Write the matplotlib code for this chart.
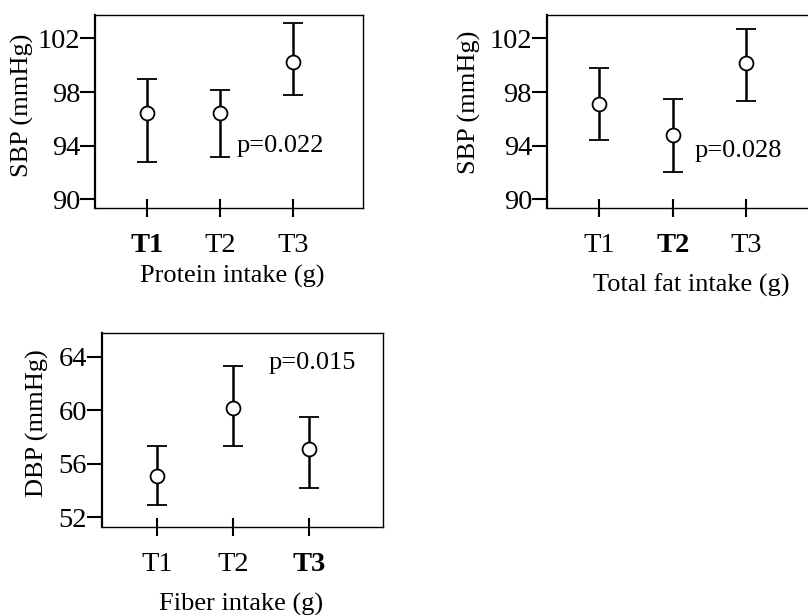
import matplotlib
matplotlib.use("Agg")
import matplotlib.pyplot as plt

plt.rcParams['font.family'] = ['Liberation Serif', 'DejaVu Serif']
plt.rcParams['font.size'] = 19

groups = ['T1', 'T2', 'T3']

# protein intake vs SBP
protein_mean = [96.45, 96.45, 100.25]
protein_low = [92.78, 93.15, 97.77]
protein_high = [98.95, 98.15, 103.15]

# total fat intake vs SBP
fat_mean = [97.13, 94.82, 100.15]
fat_low = [94.45, 92.05, 97.3]
fat_high = [99.83, 97.45, 102.7]

# fiber intake vs DBP
fiber_mean = [55.11, 60.15, 57.1]
fiber_low = [52.92, 57.33, 54.17]
fiber_high = [57.33, 63.31, 59.52]

sbp_ticks = [90, 94, 98, 102]
dbp_ticks = [52, 56, 60, 64]


def draw_panel(ax, mean, low, high, yticks, ylim, xlim, bold_idx,
               ylabel, xlabel, ptext, pxy, ylab_x, ylab_y, xlab_x, xlab_y):
    x = [1, 2, 3]
    err = [[m - l for m, l in zip(mean, low)], [h - m for m, h in zip(mean, high)]]
    ax.errorbar(x, mean, yerr=err, fmt='o', color='black', mfc='white',
                ms=10, mew=1.3, elinewidth=1.8, capsize=7, capthick=1.8)
    ax.set_xlim(*xlim)
    ax.set_ylim(*ylim)
    ax.set_yticks(yticks)
    ax.set_xticks(x)
    ax.set_xticklabels(groups)
    for i, lab in enumerate(ax.get_xticklabels()):
        if i == bold_idx:
            lab.set_fontweight('bold')
    ax.tick_params(axis='y', direction='out', length=10.5, width=1.5, pad=0,
                   labelsize=20.5)
    ax.tick_params(axis='x', direction='inout', length=13, width=1.5, pad=11,
                   labelsize=20.5)
    for s in ax.spines.values():
        s.set_linewidth(1.0)
    ax.spines['left'].set_linewidth(1.6)
    ax.set_ylabel(ylabel, va='center')
    ax.yaxis.set_label_coords(ylab_x, ylab_y)
    ax.set_xlabel(xlabel, va='center')
    ax.xaxis.set_label_coords(xlab_x, xlab_y)
    ax.text(pxy[0], pxy[1], ptext, ha='left', va='center')


fig = plt.figure(figsize=(8.08, 6.15), dpi=100)

ax1 = fig.add_axes([0.1176, 0.6613, 0.3317, 0.3143])
draw_panel(ax1, protein_mean, protein_low, protein_high, sbp_ticks,
           (89.32, 103.75), (0.295, 3.95), 0, 'SBP (mmHg)', 'Protein intake (g)',
           'p=0.022', (2.23, 94.0), -0.272, 0.532, 0.511, -0.35)

ax2 = fig.add_axes([0.6766, 0.6613, 0.3335, 0.3143])
draw_panel(ax2, fat_mean, fat_low, fat_high, sbp_ticks,
           (89.32, 103.75), (0.284, 3.95), 1, 'SBP (mmHg)', 'Total fat intake (g)',
           'p=0.028', (2.3, 93.6), -0.286, 0.547, 0.535, -0.40)

ax3 = fig.add_axes([0.1259, 0.1426, 0.3478, 0.3154])
draw_panel(ax3, fiber_mean, fiber_low, fiber_high, dbp_ticks,
           (51.25, 65.75), (0.28, 3.96), 2, 'DBP (mmHg)', 'Fiber intake (g)',
           'p=0.015', (2.46, 63.5), -0.228, 0.536, 0.495, -0.40)

fig.savefig('out.png', dpi=100)
